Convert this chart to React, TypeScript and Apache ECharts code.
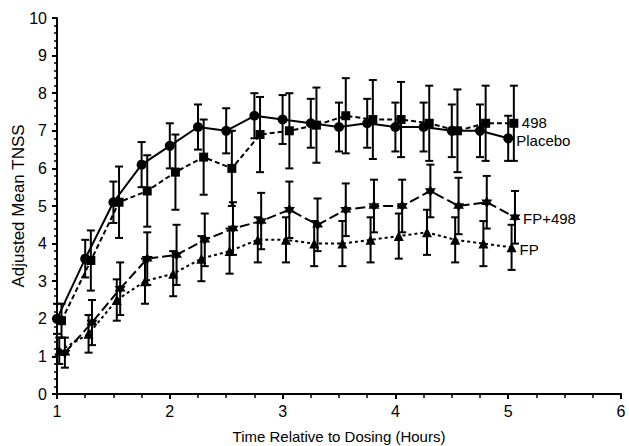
import React, { useEffect, useRef } from "react";
import * as echarts from "echarts";

// x positions (hours) per series (slightly staggered as in the figure)
const timesPlacebo = [1.0, 1.25, 1.5, 1.75, 2.0, 2.25, 2.5, 2.75, 3.0, 3.25, 3.5, 3.75, 4.0, 4.25, 4.5, 4.75, 5.0];
const times498 = [1.04, 1.3, 1.55, 1.8, 2.05, 2.3, 2.55, 2.8, 3.06, 3.3, 3.56, 3.8, 4.05, 4.3, 4.55, 4.8, 5.05];
const timesFP = [1.02, 1.28, 1.53, 1.78, 2.03, 2.28, 2.53, 2.78, 3.03, 3.28, 3.53, 3.78, 4.03, 4.28, 4.53, 4.78, 5.03];
const timesFP498 = [1.07, 1.31, 1.56, 1.8, 2.06, 2.31, 2.56, 2.81, 3.06, 3.31, 3.56, 3.81, 4.06, 4.31, 4.56, 4.81, 5.06];

const placebo = [2.0, 3.6, 5.1, 6.1, 6.6, 7.1, 7.0, 7.4, 7.3, 7.2, 7.1, 7.2, 7.1, 7.1, 7.0, 7.0, 6.8];
const placeboErr = [0.4, 0.5, 0.55, 0.6, 0.6, 0.6, 0.6, 0.6, 0.65, 0.65, 0.65, 0.65, 0.65, 0.65, 0.7, 0.7, 0.6];

const s498 = [1.95, 3.55, 5.1, 5.4, 5.9, 6.3, 6.0, 6.9, 7.0, 7.15, 7.4, 7.3, 7.3, 7.2, 7.0, 7.2, 7.2];
const s498Err = [0.45, 0.8, 0.95, 0.95, 1.0, 1.0, 1.0, 1.0, 1.0, 1.0, 1.0, 1.05, 1.0, 1.0, 1.1, 1.0, 1.0];

const fp = [1.15, 1.6, 2.5, 3.0, 3.2, 3.6, 3.8, 4.1, 4.1, 4.0, 4.0, 4.1, 4.2, 4.3, 4.1, 4.0, 3.9];
const fpErr = [0.35, 0.5, 0.55, 0.6, 0.6, 0.6, 0.6, 0.6, 0.6, 0.6, 0.6, 0.6, 0.6, 0.6, 0.6, 0.6, 0.6];

const fp498 = [1.1, 1.9, 2.8, 3.6, 3.7, 4.1, 4.4, 4.6, 4.9, 4.5, 4.9, 5.0, 5.0, 5.4, 5.0, 5.1, 4.7];
const fp498Err = [0.4, 0.6, 0.7, 0.7, 0.8, 0.7, 0.7, 0.75, 0.75, 0.7, 0.7, 0.7, 0.7, 0.7, 0.75, 0.7, 0.7];

const STAR = "path://M0,-10L8.66,5L-8.66,5Z M0,10L-8.66,-5L8.66,-5Z";
const FONT = "'Liberation Sans', Arial, sans-serif";

function pts(xs: number[], ys: number[]) {
  return xs.map((x, i) => [x, ys[i]]);
}
function errs(xs: number[], ys: number[], es: number[]) {
  return xs.map((x, i) => [x, ys[i] - es[i], ys[i] + es[i]]);
}

const renderErr = (params: any, api: any) => {
  const x = api.value(0);
  const lo = api.value(1);
  const hi = api.value(2);
  const p1 = api.coord([x, hi]);
  const p2 = api.coord([x, lo]);
  const w = 4;
  const st = { stroke: "#000", lineWidth: 2 };
  return {
    type: "group",
    children: [
      { type: "line", shape: { x1: p1[0], y1: p1[1], x2: p2[0], y2: p2[1] }, style: st },
      { type: "line", shape: { x1: p1[0] - w, y1: p1[1], x2: p1[0] + w, y2: p1[1] }, style: st },
      { type: "line", shape: { x1: p2[0] - w, y1: p2[1], x2: p2[0] + w, y2: p2[1] }, style: st },
    ],
  };
};

function lineSeries(
  name: string,
  xs: number[],
  ys: number[],
  symbol: string,
  size: number,
  dash: any,
  labelOffset: number[]
) {
  return {
    type: "line",
    name,
    data: pts(xs, ys),
    symbol,
    symbolSize: size,
    z: 3,
    itemStyle: { color: "#000" },
    lineStyle: { color: "#000", width: 2, type: dash },
    endLabel: {
      show: true,
      formatter: name,
      distance: 8,
      offset: labelOffset,
      color: "#000",
      fontFamily: FONT,
      fontSize: 15,
      lineHeight: 15,
    },
  };
}

function errSeries(xs: number[], ys: number[], es: number[]) {
  return {
    type: "custom",
    renderItem: renderErr,
    data: errs(xs, ys, es),
    encode: { x: 0, y: [1, 2] },
    z: 2,
  };
}

export default function App() {
  const ref = useRef<HTMLDivElement>(null);
  useEffect(() => {
    if (!ref.current) return;
    const chart = echarts.init(ref.current, undefined, { renderer: "svg" });
    chart.setOption({
      animation: false,
      backgroundColor: "#fff",
      grid: { left: 57, right: 8, top: 18, bottom: 52, outerBoundsMode: "none", containLabel: false },
      xAxis: {
        type: "value",
        min: 1,
        max: 6,
        interval: 1,
        name: "Time Relative to Dosing (Hours)",
        nameLocation: "middle",
        nameGap: 35,
        nameMoveOverlap: false,
        nameTextStyle: { color: "#000", fontFamily: FONT, fontSize: 15 },
        axisLine: { show: true, onZero: false, lineStyle: { color: "#000", width: 2 } },
        axisTick: { show: true, length: 5, lineStyle: { color: "#000", width: 2 } },
        minorTick: { show: true, splitNumber: 4, length: 4, lineStyle: { color: "#000", width: 1.5 } },
        axisLabel: { color: "#000", fontFamily: FONT, fontSize: 16, margin: 9 },
        splitLine: { show: false },
      },
      yAxis: {
        type: "value",
        min: 0,
        max: 10,
        interval: 1,
        name: "Adjusted Mean TNSS",
        nameLocation: "middle",
        nameGap: 30,
        nameMoveOverlap: false,
        nameTextStyle: { color: "#000", fontFamily: FONT, fontSize: 17 },
        axisLine: { show: true, onZero: false, lineStyle: { color: "#000", width: 2 } },
        axisTick: { show: true, length: 5, lineStyle: { color: "#000", width: 2 } },
        minorTick: { show: true, splitNumber: 5, length: 3, lineStyle: { color: "#000", width: 1.5 } },
        axisLabel: { color: "#000", fontFamily: FONT, fontSize: 16, margin: 10 },
        splitLine: { show: false },
      },
      series: [
        errSeries(timesPlacebo, placebo, placeboErr),
        errSeries(times498, s498, s498Err),
        errSeries(timesFP, fp, fpErr),
        errSeries(timesFP498, fp498, fp498Err),
        lineSeries("Placebo", timesPlacebo, placebo, "circle", 10, "solid", [0, 2]),
        lineSeries("498", times498, s498, "rect", 9, [5, 3], [0, -1]),
        lineSeries("FP", timesFP, fp, "triangle", 10, [3, 3], [0, 2]),
        lineSeries("FP+498", timesFP498, fp498, STAR, 11, [10, 4], [0, 1]),
      ],
    });
    return () => chart.dispose();
  }, []);
  return (
    <div
      ref={ref}
      style={{ position: "fixed", left: 0, top: 0, width: 629, height: 446, background: "#fff" }}
    />
  );
}
